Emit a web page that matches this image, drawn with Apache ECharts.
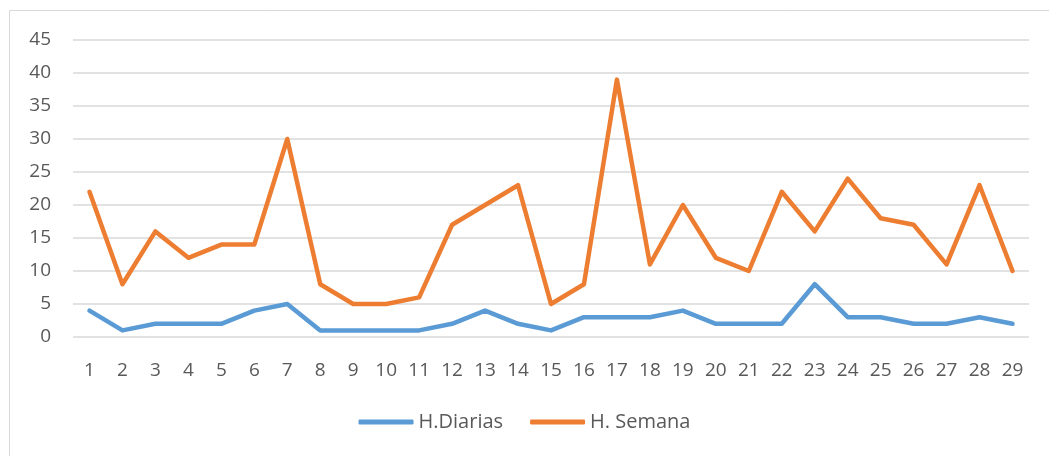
<!DOCTYPE html>
<html>
<head>
<meta charset="utf-8">
<script src="https://cdn.jsdelivr.net/npm/echarts@6/dist/echarts.min.js"></script>
<style>
html, body { margin: 0; padding: 0; background: #fff; }
#main { width: 1049px; height: 456px; }
</style>
</head>
<body>
<div id="main"></div>
<script>
const dias = ["1","2","3","4","5","6","7","8","9","10","11","12","13","14","15","16","17","18","19","20","21","22","23","24","25","26","27","28","29"];
const horasDiarias = [4, 1, 2, 2, 2, 4, 5, 1, 1, 1, 1, 2, 4, 2, 1, 3, 3, 3, 4, 2, 2, 2, 8, 3, 3, 2, 2, 3, 2];
const horasSemana = [22, 8, 16, 12, 14, 14, 30, 8, 5, 5, 6, 17, 20, 23, 5, 8, 39, 11, 20, 12, 10, 22, 16, 24, 18, 17, 11, 23, 10];

var mychart = echarts.init(document.getElementById("main"));

const txt = {color: "#595959", fontFamily: "Open Sans", fontSize: 19};

const option = {
	animation: false,
	graphic: [{
		type: "rect",
		shape: {x: 9.5, y: 10.5, width: 1100, height: 500},
		style: {fill: null, stroke: "#d9d9d9", lineWidth: 1},
		silent: true
	}],
	grid: {left: 73, right: 20, top: 40, bottom: 119},
	legend: {
		bottom: 19,
		left: "center",
		itemWidth: 55,
		itemHeight: 5,
		itemGap: 27,
		icon: "roundRect",
		textStyle: Object.assign({}, txt, {fontSize: 20}),
		data: ["H.Diarias", "H. Semana"]
	},
	xAxis: {
		type: "category",
		data: dias,
		boundaryGap: true,
		axisLine: {show: false},
		axisTick: {show: false},
		axisLabel: Object.assign({margin: 24, interval: 0}, txt)
	},
	yAxis: {
		type: "value",
		min: 0,
		max: 45,
		interval: 5,
		axisLabel: Object.assign({margin: 22}, txt),
		splitLine: {lineStyle: {color: "#d9d9d9", width: 1.5}}
	},
	series: [
		{name: "H.Diarias", type: "line", data: horasDiarias, symbol: "none",
			lineStyle: {color: "#5b9bd5", width: 4.5, cap: "round", join: "round"}, itemStyle: {color: "#5b9bd5"}},
		{name: "H. Semana", type: "line", data: horasSemana, symbol: "none",
			lineStyle: {color: "#ed7d31", width: 4.5, cap: "round", join: "round"}, itemStyle: {color: "#ed7d31"}}
	]
};
mychart.setOption(option);
</script>
</body>
</html>
